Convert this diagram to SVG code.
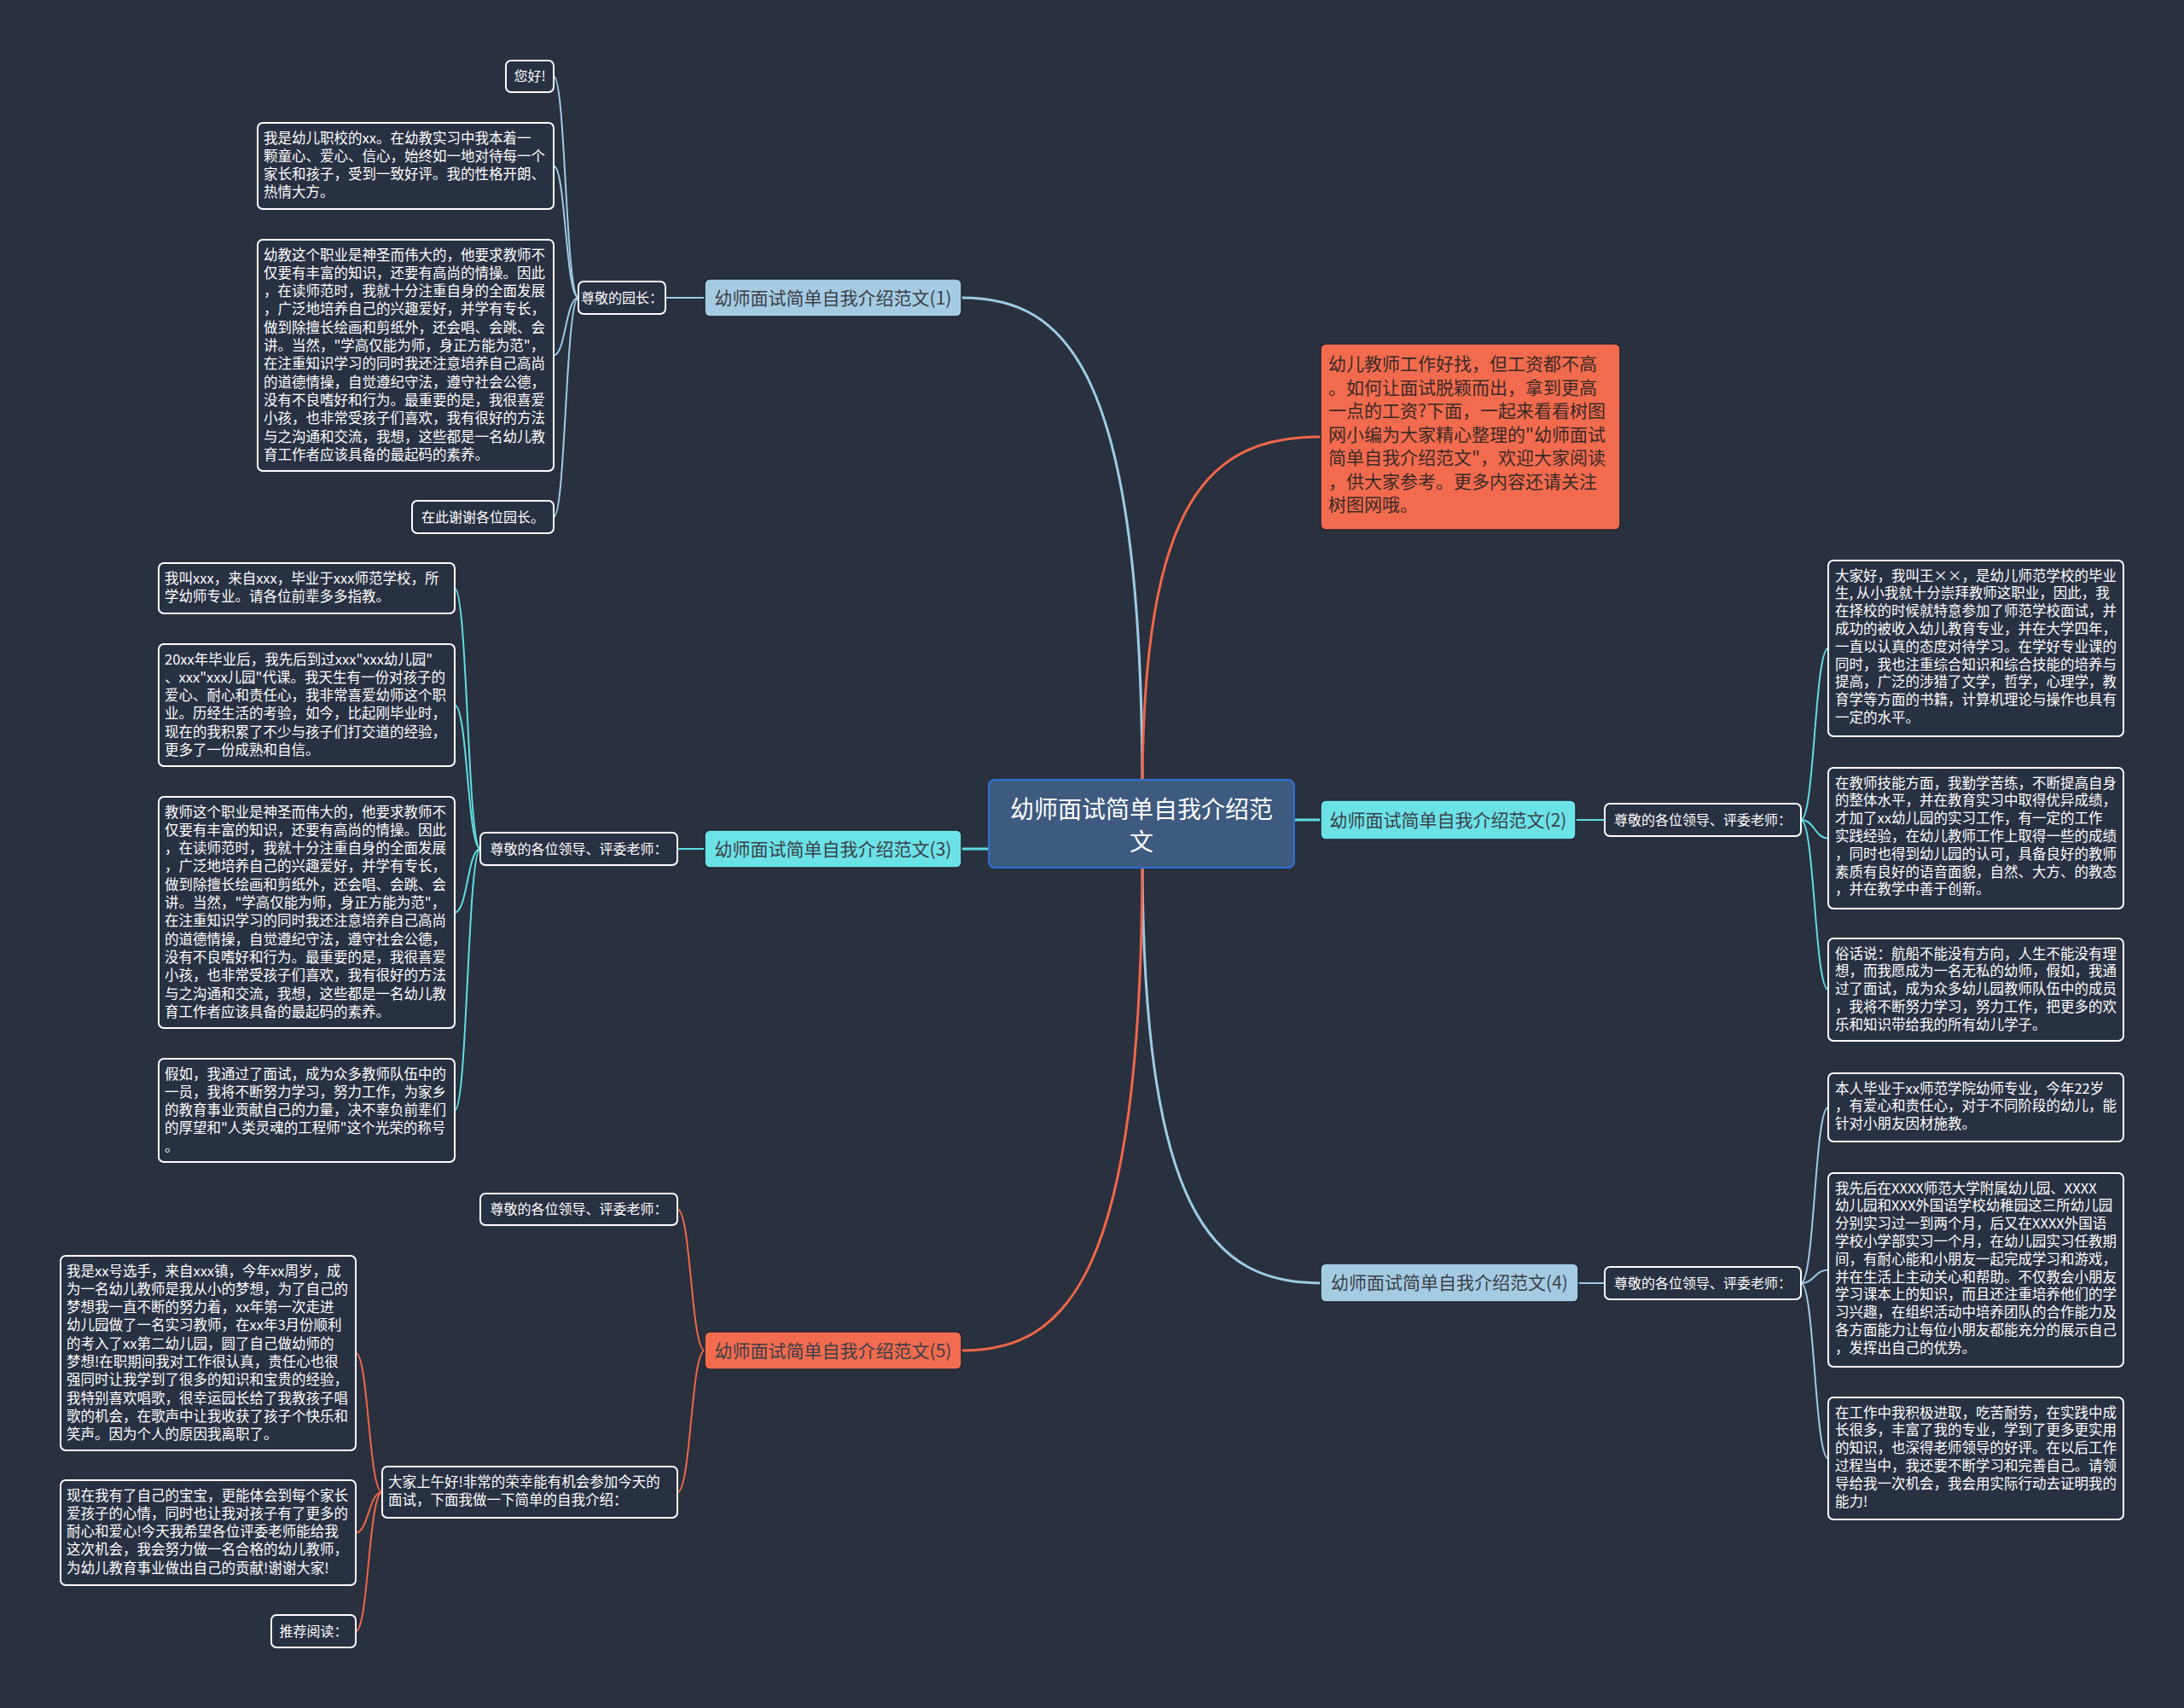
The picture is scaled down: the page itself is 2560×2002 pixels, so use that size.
<svg xmlns="http://www.w3.org/2000/svg" width="2560" height="2002" viewBox="0 0 2560 2002">
<style>
text{font-family:"Noto Sans CJK SC","Liberation Sans",sans-serif}
.bg{fill:#29303e}
.leaf{fill:#283142;stroke:#ffffff;stroke-width:2}
.lt{fill:#ffffff;font-size:16.5px}
.lab{fill:#ffffff;font-size:16px}
.br{stroke:#1e2430;stroke-width:1.5}
.bt{fill:#3a3f48;font-size:21px}
.c{fill:none;stroke-linecap:round}
.blue{stroke:#9fcbe6}
.cyan{stroke:#5fdde3}
.org{stroke:#f0674b}
.m{stroke-width:3}
.s{stroke-width:2}
</style>
<rect class="bg" x="0" y="0" width="2560" height="2002"/>

<g id="connectors">
<!-- main -->
<path class="c blue m" d="M1339 930 C1339 430 1250 349 1127 349"/>
<path class="c org m" d="M1339 930 C1339 580 1420 512 1548 512"/>
<path class="c cyan m" d="M1517 961 L1548 961"/>
<path class="c cyan m" d="M1159 995 L1127 995"/>
<path class="c blue m" d="M1339 1000 C1339 1420 1420 1504 1548 1504"/>
<path class="c org m" d="M1339 1000 C1339 1500 1250 1583 1127 1583"/>
<!-- branch 1 -->
<path class="c blue s" d="M826 349 L780 349"/>
<path class="c blue s" d="M678 349 C663 349 663 89.5 649 89.5"/>
<path class="c blue s" d="M678 349 C663 349 663 194.5 649 194.5"/>
<path class="c blue s" d="M678 349 C663 349 663 416.5 649 416.5"/>
<path class="c blue s" d="M678 349 C663 349 663 606 649 606"/>
<!-- branch 2 -->
<path class="c cyan s" d="M1847 961 L1881 961"/>
<path class="c cyan s" d="M2111 961 C2127 961 2127 760 2143 760"/>
<path class="c cyan s" d="M2111 961 C2127 961 2127 982.5 2143 982.5"/>
<path class="c cyan s" d="M2111 961 C2127 961 2127 1160 2143 1160"/>
<!-- branch 3 -->
<path class="c cyan s" d="M826 995 L794 995"/>
<path class="c cyan s" d="M563 995 C548 995 548 689.5 533 689.5"/>
<path class="c cyan s" d="M563 995 C548 995 548 826.5 533 826.5"/>
<path class="c cyan s" d="M563 995 C548 995 548 1069.5 533 1069.5"/>
<path class="c cyan s" d="M563 995 C548 995 548 1301.5 533 1301.5"/>
<!-- branch 4 -->
<path class="c blue s" d="M1850 1504 L1881 1504"/>
<path class="c blue s" d="M2111 1504 C2127 1504 2127 1298 2143 1298"/>
<path class="c blue s" d="M2111 1504 C2127 1504 2127 1488.5 2143 1488.5"/>
<path class="c blue s" d="M2111 1504 C2127 1504 2127 1709.5 2143 1709.5"/>
<!-- branch 5 -->
<path class="c org s" d="M826 1583 C810 1583 810 1417.5 794 1417.5"/>
<path class="c org s" d="M826 1583 C810 1583 810 1749 794 1749"/>
<path class="c org s" d="M448 1749 C432 1749 432 1586 417 1586"/>
<path class="c org s" d="M448 1749 C432 1749 432 1796.5 417 1796.5"/>
<path class="c org s" d="M448 1749 C432 1749 432 1912 417 1912"/>
</g>

<g id="central">
<rect x="1159" y="914" width="358" height="103" rx="7" fill="#3e5a7f" stroke="#2f6fd6" stroke-width="2"/>
<text x="1338" y="959" text-anchor="middle" fill="#ffffff" font-size="28">幼师面试简单自我介绍范</text>
<text x="1338" y="997" text-anchor="middle" fill="#ffffff" font-size="28">文</text>
</g>

<g id="desc">
<rect x="1548" y="403" width="351" height="218" rx="6" fill="#f26b4f" stroke="#1e2430" stroke-width="1.5"/>
<text x="1557" y="434" fill="#3a2a26" font-size="21"><tspan x="1557">幼儿教师工作好找，但工资都不高</tspan><tspan x="1557" dy="27.5">。如何让面试脱颖而出，拿到更高</tspan><tspan x="1557" dy="27.5">一点的工资?下面，一起来看看树图</tspan><tspan x="1557" dy="27.5">网小编为大家精心整理的"幼师面试</tspan><tspan x="1557" dy="27.5">简单自我介绍范文"，欢迎大家阅读</tspan><tspan x="1557" dy="27.5">，供大家参考。更多内容还请关注</tspan><tspan x="1557" dy="27.5">树图网哦。</tspan></text>
</g>

<!-- Branch 1 -->
<g id="b1">
<rect class="br" x="826" y="327" width="301" height="44" rx="6" fill="#a5cbe3"/>
<text class="bt" x="976.5" y="356.5" text-anchor="middle">幼师面试简单自我介绍范文(1)</text>
</g>
<g id="b1-greet">
<rect class="leaf" x="678" y="330" width="102" height="38" rx="6"/>
<text class="lab" x="729" y="354.5" text-anchor="middle">尊敬的园长：</text>
</g>
<g id="b1-hello">
<rect class="leaf" x="593" y="71" width="56" height="37" rx="6"/>
<text class="lab" x="621" y="95" text-anchor="middle">您好!</text>
</g>
<g id="b1-t1">
<rect class="leaf" x="302" y="144" width="347" height="101" rx="6"/>
<text class="lt" x="309" y="167.5"><tspan x="309">我是幼儿职校的xx。在幼教实习中我本着一</tspan><tspan x="309" dy="21.3">颗童心、爱心、信心，始终如一地对待每一个</tspan><tspan x="309" dy="21.3">家长和孩子，受到一致好评。我的性格开朗、</tspan><tspan x="309" dy="21.3">热情大方。</tspan></text>
</g>
<g id="b1-t2">
<rect class="leaf" x="302" y="281" width="347" height="271" rx="6"/>
<text class="lt" x="309" y="304.5"><tspan x="309">幼教这个职业是神圣而伟大的，他要求教师不</tspan><tspan x="309" dy="21.3">仅要有丰富的知识，还要有高尚的情操。因此</tspan><tspan x="309" dy="21.3">，在读师范时，我就十分注重自身的全面发展</tspan><tspan x="309" dy="21.3">，广泛地培养自己的兴趣爱好，并学有专长，</tspan><tspan x="309" dy="21.3">做到除擅长绘画和剪纸外，还会唱、会跳、会</tspan><tspan x="309" dy="21.3">讲。当然，"学高仅能为师，身正方能为范"，</tspan><tspan x="309" dy="21.3">在注重知识学习的同时我还注意培养自己高尚</tspan><tspan x="309" dy="21.3">的道德情操，自觉遵纪守法，遵守社会公德，</tspan><tspan x="309" dy="21.3">没有不良嗜好和行为。最重要的是，我很喜爱</tspan><tspan x="309" dy="21.3">小孩，也非常受孩子们喜欢，我有很好的方法</tspan><tspan x="309" dy="21.3">与之沟通和交流，我想，这些都是一名幼儿教</tspan><tspan x="309" dy="21.3">育工作者应该具备的最起码的素养。</tspan></text>
</g>
<g id="b1-t3">
<rect class="leaf" x="483" y="587" width="166" height="38" rx="6"/>
<text class="lab" x="566" y="611.5" text-anchor="middle">在此谢谢各位园长。</text>
</g>

<!-- Branch 2 -->
<g id="b2">
<rect class="br" x="1548" y="938" width="299" height="46" rx="6" fill="#6be2e6"/>
<text class="bt" x="1697.5" y="968.5" text-anchor="middle">幼师面试简单自我介绍范文(2)</text>
</g>
<g id="b2-greet">
<rect class="leaf" x="1881" y="942" width="230" height="38" rx="6"/>
<text class="lab" x="1996" y="966.5" text-anchor="middle">尊敬的各位领导、评委老师：</text>
</g>
<g id="b2-t1">
<rect class="leaf" x="2143" y="657" width="346" height="206" rx="6"/>
<text class="lt" x="2151" y="680.5"><tspan x="2151">大家好，我叫王××，是幼儿师范学校的毕业</tspan><tspan x="2151" dy="20.8">生, 从小我就十分崇拜教师这职业，因此，我</tspan><tspan x="2151" dy="20.8">在择校的时候就特意参加了师范学校面试，并</tspan><tspan x="2151" dy="20.8">成功的被收入幼儿教育专业，并在大学四年，</tspan><tspan x="2151" dy="20.8">一直以认真的态度对待学习。在学好专业课的</tspan><tspan x="2151" dy="20.8">同时，我也注重综合知识和综合技能的培养与</tspan><tspan x="2151" dy="20.8">提高，广泛的涉猎了文学，哲学，心理学，教</tspan><tspan x="2151" dy="20.8">育学等方面的书籍，计算机理论与操作也具有</tspan><tspan x="2151" dy="20.8">一定的水平。</tspan></text>
</g>
<g id="b2-t2">
<rect class="leaf" x="2143" y="900" width="346" height="165" rx="6"/>
<text class="lt" x="2151" y="923.5"><tspan x="2151">在教师技能方面，我勤学苦练，不断提高自身</tspan><tspan x="2151" dy="20.8">的整体水平，并在教育实习中取得优异成绩，</tspan><tspan x="2151" dy="20.8">才加了xx幼儿园的实习工作，有一定的工作</tspan><tspan x="2151" dy="20.8">实践经验，在幼儿教师工作上取得一些的成绩</tspan><tspan x="2151" dy="20.8">，同时也得到幼儿园的认可，具备良好的教师</tspan><tspan x="2151" dy="20.8">素质有良好的语音面貌，自然、大方、的教态</tspan><tspan x="2151" dy="20.8">，并在教学中善于创新。</tspan></text>
</g>
<g id="b2-t3">
<rect class="leaf" x="2143" y="1100" width="346" height="120" rx="6"/>
<text class="lt" x="2151" y="1123.5"><tspan x="2151">俗话说：航船不能没有方向，人生不能没有理</tspan><tspan x="2151" dy="20.8">想，而我愿成为一名无私的幼师，假如，我通</tspan><tspan x="2151" dy="20.8">过了面试，成为众多幼儿园教师队伍中的成员</tspan><tspan x="2151" dy="20.8">，我将不断努力学习，努力工作，把更多的欢</tspan><tspan x="2151" dy="20.8">乐和知识带给我的所有幼儿学子。</tspan></text>
</g>

<!-- Branch 3 -->
<g id="b3">
<rect class="br" x="826" y="973" width="301" height="44" rx="6" fill="#6be2e6"/>
<text class="bt" x="976.5" y="1002.5" text-anchor="middle">幼师面试简单自我介绍范文(3)</text>
</g>
<g id="b3-greet">
<rect class="leaf" x="563" y="976" width="231" height="38" rx="6"/>
<text class="lab" x="678.5" y="1000.5" text-anchor="middle">尊敬的各位领导、评委老师：</text>
</g>
<g id="b3-t1">
<rect class="leaf" x="186" y="660" width="347" height="59" rx="6"/>
<text class="lt" x="193" y="683.5"><tspan x="193">我叫xxx，来自xxx，毕业于xxx师范学校，所</tspan><tspan x="193" dy="21.3">学幼师专业。请各位前辈多多指教。</tspan></text>
</g>
<g id="b3-t2">
<rect class="leaf" x="186" y="755" width="347" height="143" rx="6"/>
<text class="lt" x="193" y="778.5"><tspan x="193">20xx年毕业后，我先后到过xxx"xxx幼儿园"</tspan><tspan x="193" dy="21.3">、xxx"xxx儿园"代课。我天生有一份对孩子的</tspan><tspan x="193" dy="21.3">爱心、耐心和责任心，我非常喜爱幼师这个职</tspan><tspan x="193" dy="21.3">业。历经生活的考验，如今，比起刚毕业时，</tspan><tspan x="193" dy="21.3">现在的我积累了不少与孩子们打交道的经验，</tspan><tspan x="193" dy="21.3">更多了一份成熟和自信。</tspan></text>
</g>
<g id="b3-t3">
<rect class="leaf" x="186" y="934" width="347" height="271" rx="6"/>
<text class="lt" x="193" y="957.5"><tspan x="193">教师这个职业是神圣而伟大的，他要求教师不</tspan><tspan x="193" dy="21.3">仅要有丰富的知识，还要有高尚的情操。因此</tspan><tspan x="193" dy="21.3">，在读师范时，我就十分注重自身的全面发展</tspan><tspan x="193" dy="21.3">，广泛地培养自己的兴趣爱好，并学有专长，</tspan><tspan x="193" dy="21.3">做到除擅长绘画和剪纸外，还会唱、会跳、会</tspan><tspan x="193" dy="21.3">讲。当然，"学高仅能为师，身正方能为范"，</tspan><tspan x="193" dy="21.3">在注重知识学习的同时我还注意培养自己高尚</tspan><tspan x="193" dy="21.3">的道德情操，自觉遵纪守法，遵守社会公德，</tspan><tspan x="193" dy="21.3">没有不良嗜好和行为。最重要的是，我很喜爱</tspan><tspan x="193" dy="21.3">小孩，也非常受孩子们喜欢，我有很好的方法</tspan><tspan x="193" dy="21.3">与之沟通和交流，我想，这些都是一名幼儿教</tspan><tspan x="193" dy="21.3">育工作者应该具备的最起码的素养。</tspan></text>
</g>
<g id="b3-t4">
<rect class="leaf" x="186" y="1241" width="347" height="121" rx="6"/>
<text class="lt" x="193" y="1264.5"><tspan x="193">假如，我通过了面试，成为众多教师队伍中的</tspan><tspan x="193" dy="21.3">一员，我将不断努力学习，努力工作，为家乡</tspan><tspan x="193" dy="21.3">的教育事业贡献自己的力量，决不辜负前辈们</tspan><tspan x="193" dy="21.3">的厚望和"人类灵魂的工程师"这个光荣的称号</tspan><tspan x="193" dy="21.3">。</tspan></text>
</g>

<!-- Branch 4 -->
<g id="b4">
<rect class="br" x="1548" y="1481" width="302" height="45" rx="6" fill="#a5cbe3"/>
<text class="bt" x="1699" y="1511" text-anchor="middle">幼师面试简单自我介绍范文(4)</text>
</g>
<g id="b4-greet">
<rect class="leaf" x="1881" y="1485" width="230" height="38" rx="6"/>
<text class="lab" x="1996" y="1509.5" text-anchor="middle">尊敬的各位领导、评委老师：</text>
</g>
<g id="b4-t1">
<rect class="leaf" x="2143" y="1258" width="346" height="80" rx="6"/>
<text class="lt" x="2151" y="1281.5"><tspan x="2151">本人毕业于xx师范学院幼师专业，今年22岁</tspan><tspan x="2151" dy="20.8">，有爱心和责任心，对于不同阶段的幼儿，能</tspan><tspan x="2151" dy="20.8">针对小朋友因材施教。</tspan></text>
</g>
<g id="b4-t2">
<rect class="leaf" x="2143" y="1375" width="346" height="227" rx="6"/>
<text class="lt" x="2151" y="1398.5"><tspan x="2151">我先后在XXXX师范大学附属幼儿园、XXXX</tspan><tspan x="2151" dy="20.8">幼儿园和XXX外国语学校幼稚园这三所幼儿园</tspan><tspan x="2151" dy="20.8">分别实习过一到两个月，后又在XXXX外国语</tspan><tspan x="2151" dy="20.8">学校小学部实习一个月，在幼儿园实习任教期</tspan><tspan x="2151" dy="20.8">间，有耐心能和小朋友一起完成学习和游戏，</tspan><tspan x="2151" dy="20.8">并在生活上主动关心和帮助。不仅教会小朋友</tspan><tspan x="2151" dy="20.8">学习课本上的知识，而且还注重培养他们的学</tspan><tspan x="2151" dy="20.8">习兴趣，在组织活动中培养团队的合作能力及</tspan><tspan x="2151" dy="20.8">各方面能力让每位小朋友都能充分的展示自己</tspan><tspan x="2151" dy="20.8">，发挥出自己的优势。</tspan></text>
</g>
<g id="b4-t3">
<rect class="leaf" x="2143" y="1638" width="346" height="143" rx="6"/>
<text class="lt" x="2151" y="1661.5"><tspan x="2151">在工作中我积极进取，吃苦耐劳，在实践中成</tspan><tspan x="2151" dy="20.8">长很多，丰富了我的专业，学到了更多更实用</tspan><tspan x="2151" dy="20.8">的知识，也深得老师领导的好评。在以后工作</tspan><tspan x="2151" dy="20.8">过程当中，我还要不断学习和完善自己。请领</tspan><tspan x="2151" dy="20.8">导给我一次机会，我会用实际行动去证明我的</tspan><tspan x="2151" dy="20.8">能力!</tspan></text>
</g>

<!-- Branch 5 -->
<g id="b5">
<rect class="br" x="826" y="1561" width="301" height="44" rx="6" fill="#f26b4f"/>
<text class="bt" x="976.5" y="1590.5" text-anchor="middle">幼师面试简单自我介绍范文(5)</text>
</g>
<g id="b5-greet">
<rect class="leaf" x="563" y="1399" width="231" height="37" rx="6"/>
<text class="lab" x="678.5" y="1423" text-anchor="middle">尊敬的各位领导、评委老师：</text>
</g>
<g id="b5-intro">
<rect class="leaf" x="448" y="1719" width="346" height="60" rx="6"/>
<text class="lt" x="455" y="1742.5"><tspan x="455">大家上午好!非常的荣幸能有机会参加今天的</tspan><tspan x="455" dy="21.3">面试，下面我做一下简单的自我介绍：</tspan></text>
</g>
<g id="b5-t1">
<rect class="leaf" x="71" y="1472" width="346" height="228" rx="6"/>
<text class="lt" x="78" y="1495.5"><tspan x="78">我是xx号选手，来自xxx镇，今年xx周岁，成</tspan><tspan x="78" dy="21.3">为一名幼儿教师是我从小的梦想，为了自己的</tspan><tspan x="78" dy="21.3">梦想我一直不断的努力着，xx年第一次走进</tspan><tspan x="78" dy="21.3">幼儿园做了一名实习教师，在xx年3月份顺利</tspan><tspan x="78" dy="21.3">的考入了xx第二幼儿园，圆了自己做幼师的</tspan><tspan x="78" dy="21.3">梦想!在职期间我对工作很认真，责任心也很</tspan><tspan x="78" dy="21.3">强同时让我学到了很多的知识和宝贵的经验，</tspan><tspan x="78" dy="21.3">我特别喜欢唱歌，很幸运园长给了我教孩子唱</tspan><tspan x="78" dy="21.3">歌的机会，在歌声中让我收获了孩子个快乐和</tspan><tspan x="78" dy="21.3">笑声。因为个人的原因我离职了。</tspan></text>
</g>
<g id="b5-t2">
<rect class="leaf" x="71" y="1735" width="346" height="123" rx="6"/>
<text class="lt" x="78" y="1758.5"><tspan x="78">现在我有了自己的宝宝，更能体会到每个家长</tspan><tspan x="78" dy="21.3">爱孩子的心情，同时也让我对孩子有了更多的</tspan><tspan x="78" dy="21.3">耐心和爱心!今天我希望各位评委老师能给我</tspan><tspan x="78" dy="21.3">这次机会，我会努力做一名合格的幼儿教师，</tspan><tspan x="78" dy="21.3">为幼儿教育事业做出自己的贡献!谢谢大家!</tspan></text>
</g>
<g id="b5-t3">
<rect class="leaf" x="318" y="1893" width="99" height="38" rx="6"/>
<text class="lab" x="367.5" y="1917.5" text-anchor="middle">推荐阅读：</text>
</g>
</svg>
